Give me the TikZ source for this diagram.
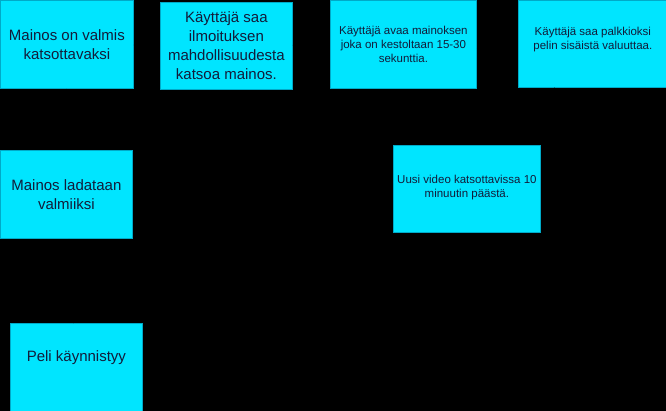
\documentclass[tikz,border=0pt]{standalone}
\usepackage{fontspec}
\setmainfont{Liberation Sans}
\usetikzlibrary{arrows.meta}
\definecolor{boxfill}{RGB}{0,229,255}
\definecolor{boxline}{RGB}{0,170,200}
\definecolor{boxtext}{RGB}{18,28,58}
\tikzset{
  box/.style={draw=boxline, line width=0.8pt, fill=boxfill, text=boxtext, anchor=north west,
    align=center, inner sep=2pt, minimum width=133pt, minimum height=88pt},
  bigtxt/.style={font=\fontsize{15pt}{19pt}\selectfont},
  smalltxt/.style={font=\fontsize{11.5pt}{14pt}\selectfont},
  flow/.style={draw=black, -{Triangle[length=6pt,width=5pt]}, line width=0.8pt}
}
\begin{document}
\begin{tikzpicture}[x=1pt,y=1pt]
\fill[black] (0,0) rectangle (666,-411);
\useasboundingbox (0,0) rectangle (666,-411);
\node[box, bigtxt] (ready) at (0,0) {Mainos on valmis\\katsottavaksi};
\node[box, bigtxt, minimum width=132pt, minimum height=87pt] (notify) at (160,-2) {Käyttäjä saa\\ilmoituksen\\mahdollisuudesta\\katsoa mainos.};
\node[box, smalltxt, minimum width=146pt] (open) at (330,0) {Käyttäjä avaa mainoksen\\joka on kestoltaan 15-30\\sekunttia.};
\node[box, smalltxt, minimum width=149pt, minimum height=87pt, text depth=12pt] (reward) at (518,0) {Käyttäjä saa palkkioksi\\pelin sisäistä valuuttaa.};
\node[box, bigtxt, minimum width=132pt] (load) at (0,-150) {Mainos ladataan\\valmiiksi};
\node[box, smalltxt, minimum width=147pt, minimum height=87pt, text depth=5pt] (next) at (393,-145) {Uusi video katsottavissa 10\\minuutin päästä.};
\node[box, bigtxt, minimum width=132pt, minimum height=89pt, text depth=24pt] (start) at (10,-323) {Peli käynnistyy};
\draw[flow] (start) -- (load);
\draw[flow] (load) -- (ready);
\draw[flow] (ready) -- (notify);
\draw[flow] (notify) -- (open);
\draw[flow] (open.east |- 0,-48) -- (reward.west |- 0,-48);
\draw[flow] (reward) -- (next);
\end{tikzpicture}
\end{document}
